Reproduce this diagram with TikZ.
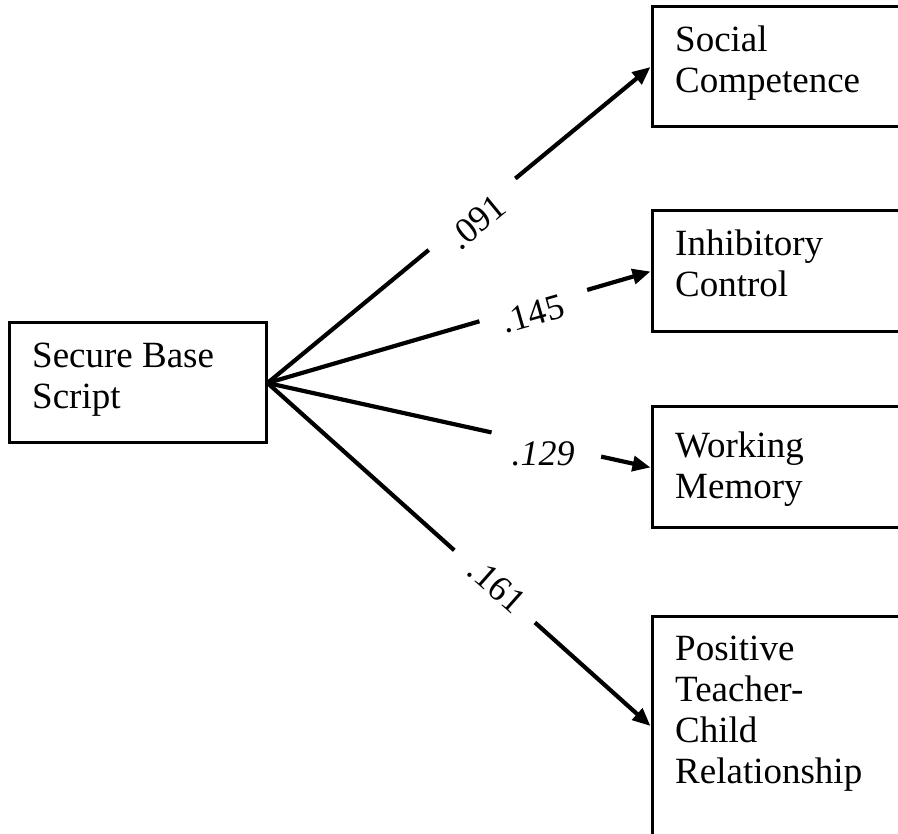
\documentclass[tikz,border=0pt]{standalone}
\usepackage{fontspec}
\setmainfont{Liberation Serif}
\usetikzlibrary{arrows.meta}
\begin{document}
\begin{tikzpicture}[x=1pt,y=-1pt,
  box/.style={draw=black,line width=3pt,inner sep=0pt,minimum width=#1},
  box/.default=260pt,
  txt/.style={anchor=base west,inner sep=0pt,align=left,font=\fontsize{37}{41}\selectfont},
  conn/.style={line width=4.2pt,-{Triangle[length=18pt,width=15pt]}},
  gap/.style={sloped,fill=white,inner sep=0pt,minimum width=#1,minimum height=10pt},
  gap/.default=112pt,
  lbl/.style={inner sep=0pt,font=\fontsize{36}{40}\selectfont}
]
\useasboundingbox (0,0) rectangle (898,834);
% boxes
\node[box=257pt,minimum height=120pt] (src) at (137.5,383) {};
\node[box,minimum height=120pt] (sc) at (782,67) {};
\node[box,minimum height=121pt] (ic) at (782,271.5) {};
\node[box,minimum height=121pt] (wm) at (782,467.5) {};
\node[box,minimum height=220pt] (pt) at (782,726) {};
% texts (anchored at the baseline of their last line)
\node[txt] (srct) at (32,409) {Secure Base\\Script};
\node[txt] (sct) at (675,93) {Social\\Competence};
\node[txt] (ict) at (675,297) {Inhibitory\\Control};
\node[txt] (wmt) at (675,499) {Working\\Memory};
\node[txt] (ptt) at (675,783) {Positive\\Teacher-\\Child\\Relationship};
% connectors
\draw[conn] (src.east) -- node[gap,pos=0.534]{} (sc.west);
\draw[conn] (src.east) -- node[gap,pos=0.694]{} (ic.west);
\draw[conn] (src.east) -- node[gap,pos=0.728]{} (wm.west);
\draw[conn] (src.east) -- node[gap=108pt,pos=0.593]{} (pt.west);
% labels
\node[lbl,rotate=39.3] (l1) at (477,222) {.091};
\node[lbl,rotate=16] (l2) at (533,314) {.145};
\node[lbl,font=\fontsize{36}{40}\selectfont\itshape] (l3) at (543,454) {.129};
\node[lbl,rotate=-41.6] (l4) at (497,586) {.161};
\end{tikzpicture}
\end{document}
